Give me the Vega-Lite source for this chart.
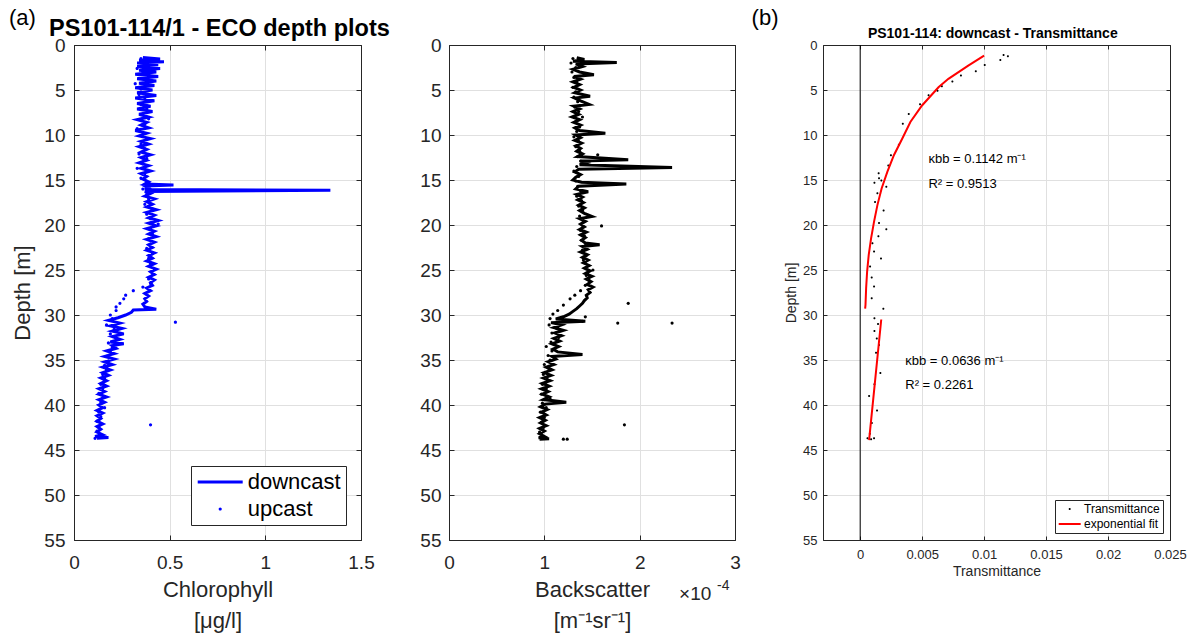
{
  "$schema": "https://vega.github.io/schema/vega-lite/v6.json",
  "background": "white",
  "padding": {"left": 8, "top": 6, "right": 5, "bottom": 5},
  "spacing": 88,
  "bounds": "flush",
  "resolve": {"scale": {"color": "independent", "shape": "independent"}, "legend": {"color": "independent", "shape": "independent"}},
  "config": {
    "font": "Liberation Sans",
    "view": {"stroke": "#262626", "strokeWidth": 1},
    "axis": {
      "labelFont": "Liberation Sans", "titleFont": "Liberation Sans",
      "labelColor": "#262626", "titleColor": "#262626",
      "domainColor": "#262626", "tickColor": "#262626", "gridColor": "#e0e0e0",
      "titleFontWeight": "normal", "labelFlush": false, "domainWidth": 1, "tickWidth": 1, "labelOverlap": false
    },
    "legend": {"labelFont": "Liberation Sans"},
    "text": {"font": "Liberation Sans"}
  },
  "datasets": {
    "chl_down": [
      {"d":1.4,"chl":0.36},{"d":1.55,"chl":0.45},{"d":1.7,"chl":0.34},{"d":1.85,"chl":0.47},{"d":2.0,"chl":0.33},{"d":2.2,"chl":0.44},{"d":2.4,"chl":0.33},{"d":2.6,"chl":0.45},{"d":2.8,"chl":0.34},{"d":3.0,"chl":0.43},{"d":3.25,"chl":0.32},{"d":3.5,"chl":0.44},{"d":3.75,"chl":0.33},{"d":4.0,"chl":0.43},{"d":4.25,"chl":0.34},{"d":4.5,"chl":0.42},{"d":4.75,"chl":0.32},{"d":5.0,"chl":0.41},{"d":5.3,"chl":0.33},{"d":5.6,"chl":0.43},{"d":5.9,"chl":0.32},{"d":6.2,"chl":0.42},{"d":6.5,"chl":0.33},{"d":6.8,"chl":0.40},{"d":7.1,"chl":0.33},{"d":7.4,"chl":0.41},{"d":7.7,"chl":0.34},{"d":8.0,"chl":0.39},
      {"d":8.3,"chl":0.33},{"d":8.6,"chl":0.38},{"d":8.9,"chl":0.35},{"d":9.2,"chl":0.39},{"d":9.5,"chl":0.32},{"d":9.8,"chl":0.38},{"d":10.1,"chl":0.34},{"d":10.4,"chl":0.40},{"d":10.7,"chl":0.35},{"d":11.0,"chl":0.39},{"d":11.3,"chl":0.34},{"d":11.6,"chl":0.38},{"d":11.9,"chl":0.35},{"d":12.2,"chl":0.40},{"d":12.5,"chl":0.35},{"d":12.8,"chl":0.38},{"d":13.1,"chl":0.34},{"d":13.4,"chl":0.39},{"d":13.7,"chl":0.35},{"d":14.0,"chl":0.40},{"d":14.3,"chl":0.35},{"d":14.6,"chl":0.38},{"d":14.9,"chl":0.36},{"d":15.2,"chl":0.39},{"d":15.45,"chl":0.37},{"d":15.56,"chl":0.52},{"d":15.66,"chl":0.37},{"d":15.9,"chl":0.39},{"d":16.05,"chl":0.37},{"d":16.15,"chl":1.34},{"d":16.28,"chl":0.37},
      {"d":16.5,"chl":0.40},{"d":16.8,"chl":0.37},{"d":17.1,"chl":0.42},{"d":17.4,"chl":0.38},{"d":17.7,"chl":0.41},{"d":18.0,"chl":0.38},{"d":18.3,"chl":0.43},{"d":18.6,"chl":0.38},{"d":18.9,"chl":0.42},{"d":19.2,"chl":0.39},{"d":19.5,"chl":0.44},{"d":19.8,"chl":0.39},{"d":20.1,"chl":0.43},{"d":20.4,"chl":0.38},{"d":20.7,"chl":0.42},{"d":21.0,"chl":0.39},{"d":21.3,"chl":0.43},{"d":21.6,"chl":0.38},{"d":21.9,"chl":0.42},{"d":22.2,"chl":0.39},{"d":22.5,"chl":0.41},{"d":22.8,"chl":0.38},{"d":23.1,"chl":0.42},{"d":23.4,"chl":0.39},{"d":23.7,"chl":0.41},{"d":24.0,"chl":0.38},{"d":24.3,"chl":0.42},{"d":24.6,"chl":0.39},{"d":24.9,"chl":0.43},{"d":25.2,"chl":0.40},{"d":25.5,"chl":0.42},{"d":25.8,"chl":0.39},{"d":26.1,"chl":0.42},{"d":26.4,"chl":0.40},{"d":26.7,"chl":0.41},{"d":27.0,"chl":0.38},{"d":27.3,"chl":0.40},{"d":27.6,"chl":0.37},{"d":27.9,"chl":0.39},{"d":28.2,"chl":0.37},{"d":28.5,"chl":0.38},{"d":28.8,"chl":0.36},{"d":29.1,"chl":0.37},{"d":29.35,"chl":0.43},{"d":29.45,"chl":0.31},{"d":29.7,"chl":0.30},
      {"d":30.0,"chl":0.27},{"d":30.3,"chl":0.23},{"d":30.6,"chl":0.18},{"d":30.9,"chl":0.24},{"d":31.2,"chl":0.19},{"d":31.5,"chl":0.25},{"d":31.8,"chl":0.20},{"d":32.1,"chl":0.26},{"d":32.4,"chl":0.20},{"d":32.7,"chl":0.24},{"d":33.0,"chl":0.19},{"d":33.2,"chl":0.26},{"d":33.4,"chl":0.20},{"d":33.7,"chl":0.22},{"d":34.0,"chl":0.17},{"d":34.3,"chl":0.21},{"d":34.6,"chl":0.16},{"d":34.9,"chl":0.21},{"d":35.2,"chl":0.16},{"d":35.5,"chl":0.20},{"d":35.8,"chl":0.15},{"d":36.1,"chl":0.19},{"d":36.4,"chl":0.15},{"d":36.7,"chl":0.18},{"d":37.0,"chl":0.14},{"d":37.3,"chl":0.17},{"d":37.6,"chl":0.14},{"d":37.9,"chl":0.17},{"d":38.2,"chl":0.13},{"d":38.5,"chl":0.16},{"d":38.8,"chl":0.13},{"d":39.1,"chl":0.17},{"d":39.4,"chl":0.13},{"d":39.7,"chl":0.16},{"d":40.0,"chl":0.13},{"d":40.3,"chl":0.15},{"d":40.6,"chl":0.12},{"d":40.9,"chl":0.15},{"d":41.2,"chl":0.12},{"d":41.5,"chl":0.14},{"d":41.8,"chl":0.12},{"d":42.1,"chl":0.15},{"d":42.4,"chl":0.12},{"d":42.7,"chl":0.14},{"d":43.0,"chl":0.12},{"d":43.3,"chl":0.15},{"d":43.5,"chl":0.11},{"d":43.6,"chl":0.18},{"d":43.7,"chl":0.12}
    ],
    "chl_up": [
      {"d":1.5,"chl":0.35},{"d":2.0,"chl":0.37},{"d":2.6,"chl":0.33},{"d":3.1,"chl":0.36},{"d":3.7,"chl":0.34},{"d":4.3,"chl":0.32},{"d":4.9,"chl":0.35},{"d":5.5,"chl":0.34},{"d":6.0,"chl":0.37},{"d":6.6,"chl":0.35},{"d":7.1,"chl":0.38},{"d":7.7,"chl":0.36},{"d":8.2,"chl":0.39},{"d":8.8,"chl":0.37},{"d":9.3,"chl":0.33},{"d":9.9,"chl":0.36},{"d":10.4,"chl":0.38},{"d":11.0,"chl":0.35},{"d":11.5,"chl":0.37},{"d":12.1,"chl":0.34},{"d":12.6,"chl":0.38},{"d":13.2,"chl":0.36},{"d":13.7,"chl":0.33},{"d":14.3,"chl":0.37},{"d":14.8,"chl":0.35},{"d":15.4,"chl":0.38},{"d":16.0,"chl":0.36},{"d":16.6,"chl":0.38},{"d":17.1,"chl":0.39},{"d":17.7,"chl":0.37},{"d":18.2,"chl":0.41},{"d":18.8,"chl":0.38},{"d":19.3,"chl":0.40},{"d":19.9,"chl":0.44},{"d":20.4,"chl":0.40},{"d":21.0,"chl":0.41},{"d":21.5,"chl":0.39},{"d":22.1,"chl":0.40},{"d":22.6,"chl":0.38},{"d":23.2,"chl":0.41},{"d":23.7,"chl":0.39},{"d":24.3,"chl":0.40},{"d":24.9,"chl":0.42},{"d":25.4,"chl":0.41},{"d":26.0,"chl":0.39},{"d":26.5,"chl":0.40},{"d":26.9,"chl":0.36},{"d":27.3,"chl":0.31},{"d":27.8,"chl":0.27},{"d":28.2,"chl":0.26},{"d":28.7,"chl":0.24},{"d":29.1,"chl":0.22},{"d":29.5,"chl":0.22},{"d":30.0,"chl":0.19},{"d":30.4,"chl":0.20},{"d":30.8,"chl":0.53},{"d":31.1,"chl":0.17},{"d":31.6,"chl":0.21},{"d":32.1,"chl":0.19},{"d":32.6,"chl":0.22},{"d":33.1,"chl":0.18},{"d":33.6,"chl":0.20},{"d":34.1,"chl":0.19},{"d":34.6,"chl":0.17},{"d":35.1,"chl":0.18},{"d":35.6,"chl":0.16},{"d":36.1,"chl":0.17},{"d":36.6,"chl":0.15},{"d":37.1,"chl":0.16},{"d":37.7,"chl":0.14},{"d":38.2,"chl":0.15},{"d":38.7,"chl":0.13},{"d":39.2,"chl":0.15},{"d":39.7,"chl":0.14},{"d":40.3,"chl":0.16},{"d":40.8,"chl":0.13},{"d":41.3,"chl":0.14},{"d":41.8,"chl":0.12},{"d":42.2,"chl":0.40},{"d":42.4,"chl":0.13},{"d":42.9,"chl":0.12},{"d":43.4,"chl":0.13},{"d":43.7,"chl":0.11}
    ],
    "bb_down": [
      {"d":1.4,"bb":1.34e-4},{"d":1.6,"bb":1.42e-4},{"d":1.8,"bb":1.30e-4},{"d":1.95,"bb":1.76e-4},{"d":2.1,"bb":1.33e-4},{"d":2.4,"bb":1.40e-4},{"d":2.7,"bb":1.30e-4},{"d":3.0,"bb":1.37e-4},{"d":3.3,"bb":1.52e-4},{"d":3.5,"bb":1.31e-4},{"d":3.8,"bb":1.38e-4},{"d":4.1,"bb":1.30e-4},{"d":4.4,"bb":1.37e-4},{"d":4.7,"bb":1.31e-4},{"d":5.0,"bb":1.38e-4},{"d":5.3,"bb":1.32e-4},{"d":5.7,"bb":1.48e-4},{"d":5.9,"bb":1.32e-4},{"d":6.2,"bb":1.38e-4},{"d":6.6,"bb":1.47e-4},{"d":6.8,"bb":1.31e-4},{"d":7.1,"bb":1.37e-4},{"d":7.4,"bb":1.30e-4},{"d":7.7,"bb":1.36e-4},{"d":8.0,"bb":1.29e-4},{"d":8.3,"bb":1.37e-4},{"d":8.6,"bb":1.31e-4},{"d":8.9,"bb":1.38e-4},{"d":9.2,"bb":1.32e-4},{"d":9.5,"bb":1.37e-4},{"d":9.8,"bb":1.64e-4},{"d":10.0,"bb":1.33e-4},{"d":10.3,"bb":1.38e-4},{"d":10.6,"bb":1.32e-4},{"d":10.9,"bb":1.39e-4},{"d":11.2,"bb":1.33e-4},{"d":11.5,"bb":1.38e-4},{"d":11.8,"bb":1.34e-4},{"d":12.1,"bb":1.40e-4},{"d":12.4,"bb":1.35e-4},{"d":12.75,"bb":1.88e-4},{"d":12.9,"bb":1.38e-4},{"d":13.1,"bb":1.44e-4},{"d":13.3,"bb":1.37e-4},{"d":13.6,"bb":2.34e-4},{"d":13.8,"bb":1.36e-4},{"d":14.1,"bb":1.32e-4},{"d":14.4,"bb":1.38e-4},{"d":14.7,"bb":1.33e-4},{"d":15.0,"bb":1.30e-4},{"d":15.25,"bb":1.39e-4},{"d":15.45,"bb":1.86e-4},{"d":15.7,"bb":1.36e-4},{"d":16.0,"bb":1.33e-4},{"d":16.3,"bb":1.46e-4},{"d":16.6,"bb":1.34e-4},{"d":16.9,"bb":1.40e-4},{"d":17.2,"bb":1.35e-4},{"d":17.5,"bb":1.41e-4},{"d":17.8,"bb":1.36e-4},{"d":18.1,"bb":1.42e-4},{"d":18.4,"bb":1.37e-4},{"d":18.7,"bb":1.42e-4},{"d":19.05,"bb":1.50e-4},{"d":19.3,"bb":1.37e-4},{"d":19.6,"bb":1.43e-4},{"d":19.9,"bb":1.38e-4},{"d":20.2,"bb":1.42e-4},{"d":20.5,"bb":1.37e-4},{"d":20.8,"bb":1.44e-4},{"d":21.1,"bb":1.38e-4},{"d":21.4,"bb":1.43e-4},{"d":21.7,"bb":1.39e-4},{"d":22.0,"bb":1.43e-4},{"d":22.2,"bb":1.58e-4},{"d":22.4,"bb":1.40e-4},{"d":22.7,"bb":1.45e-4},{"d":23.0,"bb":1.38e-4},{"d":23.3,"bb":1.45e-4},{"d":23.6,"bb":1.40e-4},{"d":23.9,"bb":1.46e-4},{"d":24.2,"bb":1.41e-4},{"d":24.5,"bb":1.47e-4},{"d":24.8,"bb":1.42e-4},{"d":25.1,"bb":1.48e-4},{"d":25.4,"bb":1.43e-4},{"d":25.7,"bb":1.50e-4},{"d":26.0,"bb":1.44e-4},{"d":26.3,"bb":1.49e-4},{"d":26.6,"bb":1.45e-4},{"d":26.9,"bb":1.51e-4},{"d":27.2,"bb":1.46e-4},{"d":27.5,"bb":1.48e-4},{"d":27.8,"bb":1.44e-4},{"d":28.1,"bb":1.45e-4},{"d":28.4,"bb":1.42e-4},{"d":28.7,"bb":1.40e-4},{"d":29.0,"bb":1.37e-4},{"d":29.3,"bb":1.34e-4},{"d":29.6,"bb":1.30e-4},{"d":29.9,"bb":1.26e-4},{"d":30.2,"bb":1.20e-4},{"d":30.45,"bb":1.12e-4},{"d":30.7,"bb":1.43e-4},{"d":30.85,"bb":1.07e-4},{"d":31.1,"bb":1.18e-4},{"d":31.4,"bb":1.10e-4},{"d":31.7,"bb":1.20e-4},{"d":32.0,"bb":1.11e-4},{"d":32.3,"bb":1.18e-4},{"d":32.6,"bb":1.10e-4},{"d":32.9,"bb":1.16e-4},{"d":33.2,"bb":1.08e-4},{"d":33.5,"bb":1.15e-4},{"d":33.8,"bb":1.09e-4},{"d":34.1,"bb":1.14e-4},{"d":34.4,"bb":1.40e-4},{"d":34.6,"bb":1.08e-4},{"d":34.9,"bb":1.12e-4},{"d":35.2,"bb":1.04e-4},{"d":35.5,"bb":1.10e-4},{"d":35.8,"bb":1.02e-4},{"d":36.1,"bb":1.08e-4},{"d":36.4,"bb":1.00e-4},{"d":36.7,"bb":1.07e-4},{"d":37.0,"bb":0.99e-4},{"d":37.3,"bb":1.06e-4},{"d":37.6,"bb":0.98e-4},{"d":37.9,"bb":1.05e-4},{"d":38.2,"bb":0.97e-4},{"d":38.5,"bb":1.04e-4},{"d":38.8,"bb":0.98e-4},{"d":39.1,"bb":1.05e-4},{"d":39.4,"bb":0.99e-4},{"d":39.7,"bb":1.23e-4},{"d":39.9,"bb":1.01e-4},{"d":40.2,"bb":0.96e-4},{"d":40.5,"bb":1.03e-4},{"d":40.8,"bb":0.97e-4},{"d":41.1,"bb":1.02e-4},{"d":41.4,"bb":0.95e-4},{"d":41.7,"bb":1.01e-4},{"d":42.0,"bb":0.96e-4},{"d":42.3,"bb":1.02e-4},{"d":42.6,"bb":0.95e-4},{"d":42.9,"bb":1.00e-4},{"d":43.2,"bb":0.95e-4},{"d":43.5,"bb":1.00e-4},{"d":43.65,"bb":0.94e-4},{"d":43.75,"bb":1.05e-4},{"d":43.8,"bb":0.95e-4}
    ],
    "bb_up": [
      {"d":1.5,"bb":1.30e-4},{"d":2.0,"bb":1.28e-4},{"d":2.5,"bb":1.33e-4},{"d":3.0,"bb":1.29e-4},{"d":3.6,"bb":1.31e-4},{"d":4.1,"bb":1.34e-4},{"d":4.7,"bb":1.30e-4},{"d":5.2,"bb":1.33e-4},{"d":5.8,"bb":1.31e-4},{"d":6.3,"bb":1.35e-4},{"d":6.9,"bb":1.32e-4},{"d":7.4,"bb":1.36e-4},{"d":8.0,"bb":1.40e-4},{"d":8.5,"bb":1.33e-4},{"d":9.1,"bb":1.37e-4},{"d":9.6,"bb":1.34e-4},{"d":10.2,"bb":1.31e-4},{"d":10.7,"bb":1.36e-4},{"d":11.3,"bb":1.33e-4},{"d":11.8,"bb":1.37e-4},{"d":12.2,"bb":1.56e-4},{"d":12.4,"bb":1.35e-4},{"d":12.9,"bb":1.38e-4},{"d":13.5,"bb":1.34e-4},{"d":14.0,"bb":1.31e-4},{"d":14.6,"bb":1.36e-4},{"d":15.1,"bb":1.33e-4},{"d":15.7,"bb":1.35e-4},{"d":16.2,"bb":1.38e-4},{"d":16.8,"bb":1.34e-4},{"d":17.3,"bb":1.39e-4},{"d":17.9,"bb":1.36e-4},{"d":18.4,"bb":1.40e-4},{"d":19.0,"bb":1.37e-4},{"d":19.5,"bb":1.41e-4},{"d":20.1,"bb":1.60e-4},{"d":20.6,"bb":1.38e-4},{"d":21.2,"bb":1.42e-4},{"d":21.7,"bb":1.39e-4},{"d":22.3,"bb":1.43e-4},{"d":22.8,"bb":1.40e-4},{"d":23.4,"bb":1.44e-4},{"d":23.9,"bb":1.41e-4},{"d":24.5,"bb":1.46e-4},{"d":25.0,"bb":1.51e-4},{"d":25.6,"bb":1.44e-4},{"d":26.1,"bb":1.47e-4},{"d":26.7,"bb":1.43e-4},{"d":27.3,"bb":1.38e-4},{"d":27.8,"bb":1.32e-4},{"d":28.2,"bb":1.27e-4},{"d":28.7,"bb":1.88e-4},{"d":28.9,"bb":1.20e-4},{"d":29.5,"bb":1.14e-4},{"d":29.9,"bb":1.09e-4},{"d":30.2,"bb":1.43e-4},{"d":30.4,"bb":1.06e-4},{"d":30.7,"bb":1.40e-4},{"d":30.9,"bb":1.77e-4},{"d":30.9,"bb":2.34e-4},{"d":31.1,"bb":1.05e-4},{"d":31.5,"bb":1.13e-4},{"d":32.0,"bb":1.08e-4},{"d":32.5,"bb":1.15e-4},{"d":33.0,"bb":1.07e-4},{"d":33.5,"bb":1.02e-4},{"d":34.0,"bb":1.08e-4},{"d":34.5,"bb":1.04e-4},{"d":35.0,"bb":1.06e-4},{"d":35.5,"bb":1.00e-4},{"d":36.1,"bb":1.05e-4},{"d":36.6,"bb":0.99e-4},{"d":37.1,"bb":1.03e-4},{"d":37.7,"bb":0.98e-4},{"d":38.2,"bb":1.02e-4},{"d":38.8,"bb":0.97e-4},{"d":39.3,"bb":1.06e-4},{"d":39.8,"bb":0.98e-4},{"d":40.3,"bb":1.02e-4},{"d":40.8,"bb":0.96e-4},{"d":41.4,"bb":1.00e-4},{"d":41.9,"bb":0.97e-4},{"d":42.2,"bb":1.84e-4},{"d":42.5,"bb":0.99e-4},{"d":43.0,"bb":0.95e-4},{"d":43.5,"bb":0.98e-4},{"d":43.8,"bb":1.20e-4},{"d":43.8,"bb":1.24e-4}
    ],
    "trans": [
      {"d":1.11,"T":0.01157},{"d":1.25,"T":0.01192},{"d":1.66,"T":0.01131},{"d":2.21,"T":0.01005},{"d":2.92,"T":0.00933},{"d":3.39,"T":0.00813},{"d":4.06,"T":0.00744},{"d":4.58,"T":0.00659},{"d":5.09,"T":0.00624},{"d":5.57,"T":0.00552},{"d":6.57,"T":0.00483},{"d":7.68,"T":0.00392},{"d":8.75,"T":0.00344},{"d":11.07,"T":0.00312},{"d":12.25,"T":0.00248},{"d":13.39,"T":0.00227},{"d":14.24,"T":0.00149},{"d":14.8,"T":0.00152},{"d":15.06,"T":0.00171},{"d":15.31,"T":0.00115},{"d":15.76,"T":0.00211},{"d":16.46,"T":0.00139},{"d":17.45,"T":0.0012},{"d":18.38,"T":0.00189},{"d":19.78,"T":0.00152},{"d":20.48,"T":0.00211},{"d":21.25,"T":0.00147},{"d":22.03,"T":0.00099},{"d":22.95,"T":0.00112},{"d":23.73,"T":0.00168},{"d":24.61,"T":0.0008},{"d":25.83,"T":0.00093},{"d":26.83,"T":0.00112},{"d":28.15,"T":0.00093},{"d":29.3,"T":0.00187},{"d":30.37,"T":0.00115},{"d":31.0,"T":0.00144},{"d":31.78,"T":0.00115},{"d":32.6,"T":0.00134},{"d":33.33,"T":0.00152},{"d":34.2,"T":0.00128},{"d":36.44,"T":0.00163},{"d":37.7,"T":0.00115},{"d":39.0,"T":0.00072},{"d":40.6,"T":0.00136},{"d":42.0,"T":0.00094},{"d":43.2,"T":0.00078},{"d":43.7,"T":0.00059},{"d":43.8,"T":0.00088},{"d":43.7,"T":0.00112}
    ],
    "fit": [
      {"seg":1,"d":1.18,"T":0.0100},{"seg":1,"d":2.29,"T":0.00872},{"seg":1,"d":3.76,"T":0.00712},{"seg":1,"d":4.69,"T":0.00632},{"seg":1,"d":6.72,"T":0.00499},{"seg":1,"d":8.56,"T":0.00405},{"seg":1,"d":10.41,"T":0.00339},{"seg":1,"d":12.25,"T":0.00272},{"seg":1,"d":14.1,"T":0.00219},{"seg":1,"d":15.94,"T":0.00173},{"seg":1,"d":17.79,"T":0.00139},{"seg":1,"d":19.63,"T":0.00112},{"seg":1,"d":21.48,"T":0.00088},{"seg":1,"d":23.32,"T":0.00069},{"seg":1,"d":25.17,"T":0.00056},{"seg":1,"d":27.01,"T":0.00048},{"seg":1,"d":28.86,"T":0.00043},{"seg":1,"d":29.3,"T":0.0004},
      {"seg":2,"d":30.5,"T":0.0017},{"seg":2,"d":37.2,"T":0.00121},{"seg":2,"d":43.9,"T":0.00072}
    ]
  },
  "hconcat": [
    {
      "width": 287, "height": 495,
      "layer": [
        {
          "data": {"name": "chl_up"},
          "mark": {"type": "point", "filled": true, "size": 400, "opacity": 1, "color": "#0000ff"},
          "encoding": {
            "x": {"field": "chl", "type": "quantitative", "scale": {"domain": [0, 1.5], "nice": false, "zero": false},
                  "axis": {"orient": "top", "values": [0, 0.5, 1, 1.5], "labels": false, "title": null, "grid": false, "tickSize": -5}},
            "y": {"field": "d", "type": "quantitative", "scale": {"domain": [0, 55], "reverse": true, "nice": false, "zero": false},
                  "axis": {"orient": "right", "values": [0,5,10,15,20,25,30,35,40,45,50,55], "labels": false, "title": null, "grid": false, "tickSize": -5}},
            "shape": {"datum": "upcast", "type": "nominal",
                      "scale": {"domain": ["downcast", "upcast"], "range": ["M-2.25,-0.15L2.25,-0.15L2.25,0.15L-2.25,0.15Z", "M0.16,0A0.16,0.16,0,1,1,-0.16,0A0.16,0.16,0,1,1,0.16,0Z"]},
                      "legend": {
                        "orient": "bottom-right", "offset": 15, "title": null, "padding": 5,
                        "strokeColor": "#262626", "fillColor": "white", "cornerRadius": 0,
                        "labelFontSize": 22, "labelColor": "#000000",
                        "symbolSize": 400, "symbolStrokeWidth": 0, "symbolFillColor": "#0000ff",
                        "symbolOffset": 13.2, "labelOffset": 16.5, "rowPadding": 5
                      }}
          }
        },
        {
          "data": {"name": "chl_down"},
          "mark": {"type": "line", "color": "#0000ff", "strokeWidth": 3},
          "encoding": {
            "x": {"field": "chl", "type": "quantitative", "scale": {"domain": [0, 1.5], "nice": false, "zero": false},
                  "axis": {"orient": "bottom", "values": [0, 0.5, 1, 1.5], "format": "~g", "labelFontSize": 19,
                           "title": ["Chlorophyll", "[μg/l]"], "titleFontSize": 22, "titleLineHeight": 31,
                           "grid": true, "tickSize": -5, "labelPadding": 18, "titlePadding": 7}},
            "y": {"field": "d", "type": "quantitative", "scale": {"domain": [0, 55], "reverse": true, "nice": false, "zero": false},
                  "axis": {"orient": "left", "values": [0,5,10,15,20,25,30,35,40,45,50,55], "labelFontSize": 19,
                           "title": "Depth [m]", "titleFontSize": 22, "grid": true, "tickSize": -5, "labelPadding": 14, "titlePadding": 9}},
            "order": {"value": null}
          }
        },
        {
          "data": {"values": [{"label": "(a)"}]},
          "mark": {"type": "text", "align": "left", "baseline": "alphabetic", "fontSize": 22, "color": "#000000"},
          "encoding": {
            "x": {"datum": -0.34, "type": "quantitative", "scale": {"domain": [0, 1.5], "nice": false, "zero": false}, "axis": null},
            "y": {"datum": -2.26, "type": "quantitative", "scale": {"domain": [0, 55], "reverse": true, "nice": false, "zero": false}, "axis": null},
            "text": {"field": "label"}
          }
        },
        {
          "data": {"values": [{"label": "PS101-114/1 - ECO depth plots"}]},
          "mark": {"type": "text", "align": "center", "baseline": "alphabetic", "fontSize": 23.5, "fontWeight": "bold", "color": "#000000"},
          "encoding": {
            "x": {"datum": 0.76, "type": "quantitative", "scale": {"domain": [0, 1.5], "nice": false, "zero": false}, "axis": null},
            "y": {"datum": -1.0, "type": "quantitative", "scale": {"domain": [0, 55], "reverse": true, "nice": false, "zero": false}, "axis": null},
            "text": {"field": "label"}
          }
        }
      ],
      "resolve": {"axis": {"x": "independent", "y": "independent"}}
    },
    {
      "width": 286, "height": 495,
      "layer": [
        {
          "data": {"name": "bb_up"},
          "mark": {"type": "point", "filled": true, "size": 10, "opacity": 1, "color": "#000000"},
          "encoding": {
            "x": {"field": "bb", "type": "quantitative", "scale": {"domain": [0, 0.0003], "nice": false, "zero": false},
                  "axis": {"orient": "top", "values": [0, 0.0001, 0.0002, 0.0003], "labels": false, "title": null, "grid": false, "tickSize": -5}},
            "y": {"field": "d", "type": "quantitative", "scale": {"domain": [0, 55], "reverse": true, "nice": false, "zero": false},
                  "axis": {"orient": "right", "values": [0,5,10,15,20,25,30,35,40,45,50,55], "labels": false, "title": null, "grid": false, "tickSize": -5}}
          }
        },
        {
          "data": {"name": "bb_down"},
          "mark": {"type": "line", "color": "#000000", "strokeWidth": 3},
          "encoding": {
            "x": {"field": "bb", "type": "quantitative", "scale": {"domain": [0, 0.0003], "nice": false, "zero": false},
                  "axis": {"orient": "bottom", "values": [0, 0.0001, 0.0002, 0.0003], "labelExpr": "round(datum.value*10000)", "labelFontSize": 19,
                           "title": ["Backscatter", "[m⁻¹sr⁻¹]"], "titleFontSize": 22, "titleLineHeight": 31,
                           "grid": true, "tickSize": -5, "labelPadding": 18, "titlePadding": 7}},
            "y": {"field": "d", "type": "quantitative", "scale": {"domain": [0, 55], "reverse": true, "nice": false, "zero": false},
                  "axis": {"orient": "left", "values": [0,5,10,15,20,25,30,35,40,45,50,55], "labelFontSize": 19,
                           "title": null, "grid": true, "tickSize": -5, "labelPadding": 13}},
            "order": {"value": null}
          }
        },
        {
          "data": {"values": [{"label": "×10"}]},
          "mark": {"type": "text", "align": "left", "baseline": "alphabetic", "fontSize": 19, "color": "#262626"},
          "encoding": {
            "x": {"datum": 0.0002413, "type": "quantitative", "scale": {"domain": [0, 0.0003], "nice": false, "zero": false}, "axis": null},
            "y": {"datum": 61.7, "type": "quantitative", "scale": {"domain": [0, 55], "reverse": true, "nice": false, "zero": false}, "axis": null},
            "text": {"field": "label"}
          }
        },
        {
          "data": {"values": [{"label": "-4"}]},
          "mark": {"type": "text", "align": "left", "baseline": "alphabetic", "fontSize": 14, "color": "#262626"},
          "encoding": {
            "x": {"datum": 0.0002811, "type": "quantitative", "scale": {"domain": [0, 0.0003], "nice": false, "zero": false}, "axis": null},
            "y": {"datum": 60.6, "type": "quantitative", "scale": {"domain": [0, 55], "reverse": true, "nice": false, "zero": false}, "axis": null},
            "text": {"field": "label"}
          }
        }
      ],
      "resolve": {"axis": {"x": "independent", "y": "independent"}}
    },
    {
      "width": 347, "height": 495,
      "layer": [
        {
          "data": {"name": "trans"},
          "mark": {"type": "point", "filled": true, "size": 100, "opacity": 1},
          "encoding": {
            "x": {"field": "T", "type": "quantitative", "scale": {"domain": [-0.003, 0.025], "nice": false, "zero": false},
                  "axis": {"orient": "bottom", "values": [0, 0.005, 0.01, 0.015, 0.02, 0.025], "format": "~g", "labelFontSize": 13,
                           "title": "Transmittance", "titleFontSize": 14, "grid": true, "tickSize": -4, "labelPadding": 12, "titlePadding": 3}},
            "y": {"field": "d", "type": "quantitative", "scale": {"domain": [0, 55], "reverse": true, "nice": false, "zero": false},
                  "axis": {"orient": "left", "values": [0,5,10,15,20,25,30,35,40,45,50,55], "labelFontSize": 13,
                           "title": "Depth [m]", "titleFontSize": 14, "grid": true, "tickSize": -4, "labelPadding": 10, "titlePadding": 4}},
            "color": {"datum": "Transmittance", "type": "nominal",
                      "scale": {"domain": ["Transmittance", "exponential fit"], "range": ["#000000", "#ff0000"]},
                      "legend": {
                        "orient": "bottom-right", "offset": 7, "title": null, "padding": 3,
                        "strokeColor": "#262626", "fillColor": "white", "cornerRadius": 0,
                        "labelFontSize": 12, "labelColor": "#000000",
                        "symbolSize": 100, "symbolStrokeWidth": 0,
                        "symbolOffset": 5.7, "labelOffset": 8.3, "rowPadding": 3
                      }},
            "shape": {"datum": "Transmittance", "type": "nominal",
                      "scale": {"domain": ["Transmittance", "exponential fit"], "range": ["M0.2,0A0.2,0.2,0,1,1,-0.2,0A0.2,0.2,0,1,1,0.2,0Z", "M-2.2,-0.2L2.2,-0.2L2.2,0.2L-2.2,0.2Z"]},
                      "legend": {
                        "orient": "bottom-right", "offset": 7, "title": null, "padding": 3,
                        "strokeColor": "#262626", "fillColor": "white", "cornerRadius": 0,
                        "labelFontSize": 12, "labelColor": "#000000",
                        "symbolSize": 100, "symbolStrokeWidth": 0,
                        "symbolOffset": 5.7, "labelOffset": 8.3, "rowPadding": 3
                      }}
          }
        },
        {
          "data": {"name": "fit"},
          "mark": {"type": "line", "color": "#ff0000", "strokeWidth": 2},
          "encoding": {
            "x": {"field": "T", "type": "quantitative", "scale": {"domain": [-0.003, 0.025], "nice": false, "zero": false},
                  "axis": {"orient": "top", "values": [0, 0.005, 0.01, 0.015, 0.02, 0.025], "labels": false, "title": null, "grid": false, "tickSize": -4}},
            "y": {"field": "d", "type": "quantitative", "scale": {"domain": [0, 55], "reverse": true, "nice": false, "zero": false},
                  "axis": {"orient": "right", "values": [0,5,10,15,20,25,30,35,40,45,50,55], "labels": false, "title": null, "grid": false, "tickSize": -4}},
            "detail": {"field": "seg", "type": "nominal"},
            "order": {"value": null}
          }
        },
        {
          "data": {"values": [{"v": 0}]},
          "mark": {"type": "rule", "color": "#000000", "strokeWidth": 1},
          "encoding": {
            "x": {"field": "v", "type": "quantitative", "scale": {"domain": [-0.003, 0.025], "nice": false, "zero": false}, "axis": null}
          }
        },
        {
          "data": {"values": [{"label": "κbb = 0.1142 m⁻¹"}]},
          "mark": {"type": "text", "align": "left", "baseline": "middle", "fontSize": 13, "color": "#000000"},
          "encoding": {
            "x": {"datum": 0.00551, "type": "quantitative", "scale": {"domain": [-0.003, 0.025], "nice": false, "zero": false}, "axis": null},
            "y": {"datum": 12.7, "type": "quantitative", "scale": {"domain": [0, 55], "reverse": true, "nice": false, "zero": false}, "axis": null},
            "text": {"field": "label"}
          }
        },
        {
          "data": {"values": [{"label": "R² = 0.9513"}]},
          "mark": {"type": "text", "align": "left", "baseline": "middle", "fontSize": 13, "color": "#000000"},
          "encoding": {
            "x": {"datum": 0.00551, "type": "quantitative", "scale": {"domain": [-0.003, 0.025], "nice": false, "zero": false}, "axis": null},
            "y": {"datum": 15.44, "type": "quantitative", "scale": {"domain": [0, 55], "reverse": true, "nice": false, "zero": false}, "axis": null},
            "text": {"field": "label"}
          }
        },
        {
          "data": {"values": [{"label": "κbb = 0.0636 m⁻¹"}]},
          "mark": {"type": "text", "align": "left", "baseline": "middle", "fontSize": 13, "color": "#000000"},
          "encoding": {
            "x": {"datum": 0.00364, "type": "quantitative", "scale": {"domain": [-0.003, 0.025], "nice": false, "zero": false}, "axis": null},
            "y": {"datum": 35.06, "type": "quantitative", "scale": {"domain": [0, 55], "reverse": true, "nice": false, "zero": false}, "axis": null},
            "text": {"field": "label"}
          }
        },
        {
          "data": {"values": [{"label": "R² = 0.2261"}]},
          "mark": {"type": "text", "align": "left", "baseline": "middle", "fontSize": 13, "color": "#000000"},
          "encoding": {
            "x": {"datum": 0.00364, "type": "quantitative", "scale": {"domain": [-0.003, 0.025], "nice": false, "zero": false}, "axis": null},
            "y": {"datum": 37.76, "type": "quantitative", "scale": {"domain": [0, 55], "reverse": true, "nice": false, "zero": false}, "axis": null},
            "text": {"field": "label"}
          }
        },
        {
          "data": {"values": [{"label": "(b)"}]},
          "mark": {"type": "text", "align": "left", "baseline": "alphabetic", "fontSize": 22, "color": "#000000"},
          "encoding": {
            "x": {"datum": -0.00876, "type": "quantitative", "scale": {"domain": [-0.003, 0.025], "nice": false, "zero": false}, "axis": null},
            "y": {"datum": -2.26, "type": "quantitative", "scale": {"domain": [0, 55], "reverse": true, "nice": false, "zero": false}, "axis": null},
            "text": {"field": "label"}
          }
        },
        {
          "data": {"values": [{"label": "PS101-114: downcast - Transmittance"}]},
          "mark": {"type": "text", "align": "center", "baseline": "alphabetic", "fontSize": 14, "fontWeight": "bold", "color": "#000000"},
          "encoding": {
            "x": {"datum": 0.0107, "type": "quantitative", "scale": {"domain": [-0.003, 0.025], "nice": false, "zero": false}, "axis": null},
            "y": {"datum": -0.81, "type": "quantitative", "scale": {"domain": [0, 55], "reverse": true, "nice": false, "zero": false}, "axis": null},
            "text": {"field": "label"}
          }
        }
      ],
      "resolve": {"axis": {"x": "independent", "y": "independent"}}
    }
  ]
}
